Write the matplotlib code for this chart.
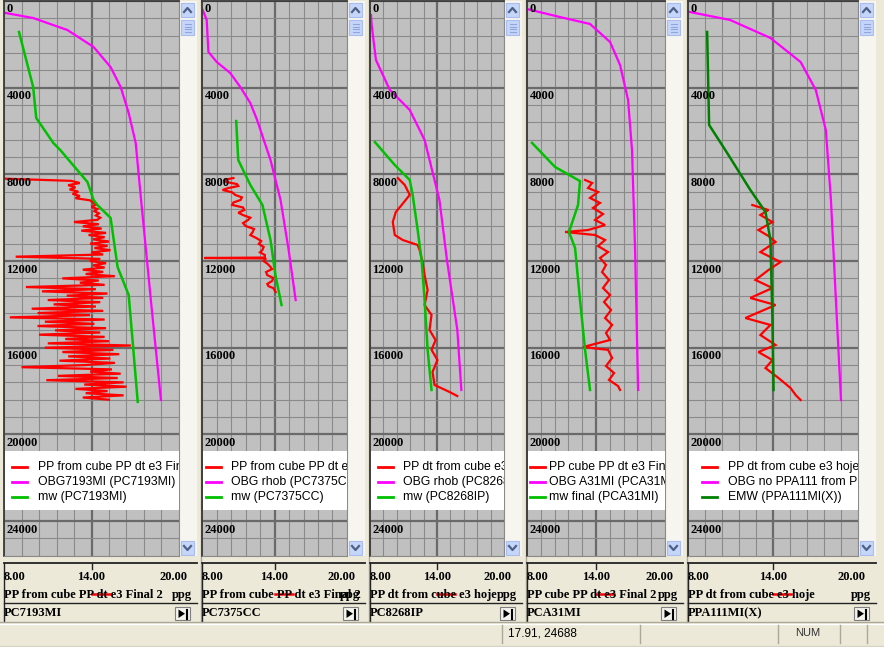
import matplotlib
matplotlib.use('Agg')
import matplotlib.pyplot as plt
import numpy as np
from matplotlib.patches import Rectangle, Polygon
from matplotlib.lines import Line2D

# ---------------- data (ppg vs depth ft) ----------------
XMIN, XMAX = 8.0, 20.0
x_tick_labels = ["8.00", "14.00", "20.00"]
depth_labels = [0, 4000, 8000, 12000, 16000, 20000, 24000]

# Panel 1 : PC7193MI
p1_obg_depth = [540, 785, 1340, 2120, 3050, 3970, 5170, 6550, 9040, 13800, 18410]
p1_obg_ppg = [8.0, 10.0, 12.35, 14.14, 15.31, 16.0, 16.55, 17.03, 17.38, 18.07, 18.76]
p1_mw_depth = [1430, 3970, 5400, 6550, 6880, 8350, 9180, 9420, 10010, 12280, 13570, 15780, 18500]
p1_mw_ppg = [9.03, 10.0, 10.21, 11.38, 11.86, 13.72, 14.14, 14.41, 15.31, 15.79, 16.55, 16.83, 17.17]
p1_pp_depth = list(range(8200, 18401, 100))
p1_pp_ppg = [8.05, 12.6, 13.2, 12.4, 12.9, 12.5, 13.1, 12.7, 13.2, 12.9,
             13.9, 14.1, 14.3, 14.0, 14.4, 14.2, 14.5, 14.3, 14.6, 14.4,
             12.8, 14.5, 13.4, 14.7, 13.3, 15.0, 13.8, 14.9, 14.1, 15.2,
             13.9, 15.1, 14.2, 15.3, 14.0, 14.8, 8.8, 14.6, 13.9, 15.0,
             14.1, 14.9, 13.4, 14.8, 13.6, 15.6, 12.0, 14.5, 13.2, 14.9,
             9.5, 14.3, 10.6, 15.1, 12.3, 14.8, 11.0, 14.6, 11.4, 14.3,
             9.9, 14.8, 10.3, 13.9, 8.4, 14.9, 10.8, 14.2, 10.3, 15.0,
             11.5, 14.6, 10.4, 14.9, 12.2, 15.2, 11.0, 16.7, 10.8, 15.5,
             12.0, 15.9, 12.4, 15.3, 11.8, 15.6, 13.6, 9.2, 15.4, 13.9,
             16.0, 11.7, 15.8, 10.9, 16.2, 13.5, 16.4, 12.9, 15.1, 13.6,
             16.2, 13.4, 15.2]

# Panel 2 : PC7375CC
p2_obg_depth = [415, 877, 2350, 2815, 3320, 3970, 4710, 5490, 7340, 9180, 11490, 13800]
p2_obg_ppg = [8.06, 8.39, 8.53, 9.22, 10.33, 11.17, 12.0, 12.56, 13.67, 14.5, 15.17, 15.75]
p2_mw_depth = [5540, 7340, 8490, 9410, 11030, 12650, 14030]
p2_mw_ppg = [10.83, 11.0, 12.0, 13.0, 13.67, 14.08, 14.58]
p2_pp_depth = [8170, 8260, 8350, 8450, 8540, 8630, 8720, 8830, 8950, 9060, 9180, 9300,
               9410, 9530, 9650, 9770, 9880, 10000, 10110, 10250, 10380, 10520, 10660,
               10800, 10940, 11080, 11210, 11350, 11490, 11600, 11720, 11840, 11860,
               11880, 12000, 12120, 12230, 12370, 12510, 12650, 12780, 12920, 13060,
               13160, 13250, 13430]
p2_pp_ppg = [10.6, 9.8, 10.0, 10.9, 11.0, 10.2, 9.7, 10.5, 10.75, 11.3, 11.2, 10.6,
             10.5, 11.4, 11.5, 11.0, 11.4, 12.0, 11.8, 11.4, 11.6, 12.3, 12.2,
             12.0, 12.5, 12.9, 12.7, 13.1, 13.0, 12.8, 13.2, 13.2, 8.2,
             13.3, 13.1, 13.4, 13.6, 13.8, 13.3, 13.4, 13.9, 13.8, 13.4,
             13.5, 13.9, 14.1]

# Panel 3 : PC8268IP
p3_obg_depth = [646, 1108, 2720, 4107, 5030, 6415, 9184, 11950, 15180, 17950]
p3_obg_ppg = [8.09, 8.15, 8.53, 9.78, 11.56, 12.89, 14.22, 14.89, 15.82, 16.18]
p3_mw_depth = [6510, 7570, 8260, 8950, 10570, 11950, 13800, 16100, 17950]
p3_mw_ppg = [8.44, 10.22, 11.56, 11.82, 12.27, 12.62, 12.89, 13.16, 13.51]
p3_pp_depth = [8170, 8490, 8950, 9410, 9740, 10200, 10800, 11030, 11260, 11490, 12050,
               12650, 13340, 14030, 14490, 15180, 15650, 16100, 16570, 17120, 17720,
               18040, 18230]
p3_pp_ppg = [10.49, 11.11, 11.56, 10.84, 10.31, 10.04, 10.22, 10.93, 12.27, 12.44, 12.71,
             12.89, 13.16, 12.89, 13.51, 13.33, 13.87, 13.51, 14.04, 13.6, 13.78,
             15.11, 15.82]

# Panel 4 : PCA31MI
p4_obg_depth = [370, 740, 1060, 1890, 2950, 4570, 6875, 11490, 17950]
p4_obg_ppg = [8.0, 10.87, 13.48, 15.22, 16.09, 16.79, 17.13, 17.4, 17.66]
p4_mw_depth = [6550, 7660, 8310, 9410, 10660, 11400, 13800, 16100, 17950]
p4_mw_ppg = [8.44, 10.44, 12.61, 12.44, 11.65, 12.18, 12.61, 13.05, 13.48]
p4_pp_depth = [8260, 8400, 8630, 8815, 9090, 9320, 9550, 9830, 10105, 10340, 10570, 10660,
               10800, 11030, 11310, 11585, 11860, 12180, 12510, 12875, 13245, 13570,
               13890, 14260, 14630, 14950, 15320, 15645, 15970, 16100, 16475, 16845,
               17170, 17490, 17770, 17950]
p4_pp_ppg = [13.05, 13.66, 13.31, 14.18, 13.48, 14.35, 13.74, 14.61, 13.92, 14.79, 13.31, 11.31,
             13.92, 14.79, 14.18, 15.05, 14.35, 14.87, 14.53, 15.13, 14.61, 15.22,
             14.70, 15.31, 14.79, 15.40, 14.87, 15.22, 12.87, 15.05, 15.40, 14.87,
             15.57, 15.13, 15.92, 16.09]

# Panel 5 : PPA111MI(X)
p5_obg_depth = [508, 877, 1707, 2815, 4107, 5953, 9184, 13800, 18415]
p5_obg_ppg = [8.14, 10.98, 13.82, 15.95, 17.02, 17.73, 18.09, 18.44, 18.8]
p5_mw_depth = [1430, 5720, 6875, 8720, 9740, 11030, 14720, 17950]
p5_mw_ppg = [9.35, 9.49, 10.63, 12.4, 13.47, 13.82, 13.96, 14.04]
p5_pp_depth = [9415, 9645, 9875, 10200, 10570, 10845, 11120, 11585, 12045, 12415, 12875,
               13245, 13705, 14030, 14630, 14950, 15415, 15875, 16200, 16570, 16940,
               17400, 17860, 18185, 18415]
p5_pp_ppg = [12.54, 13.68, 13.11, 13.96, 12.97, 13.68, 14.18, 13.11, 14.53, 13.68, 12.76,
             13.96, 12.40, 14.18, 12.05, 13.82, 13.11, 14.18, 12.97, 13.96, 13.47,
             14.39, 15.24, 15.60, 15.95]

track_titles = ["PP from cube PP dt e3 Final 2", "PP from cube PP dt e3 Final 2",
                "PP dt from cube e3 hoje", "PP cube PP dt e3 Final 2",
                "PP dt from cube e3 hoje"]
well_names = ["PC7193MI", "PC7375CC", "PC8268IP", "PCA31MI", "PPA111MI(X)"]
legend_labels = [
    ["PP from cube PP dt e3 Final 2 (PC7193MI)", "OBG7193MI (PC7193MI)", "mw (PC7193MI)"],
    ["PP from cube PP dt e3 Final 2 (PC7375CC)", "OBG rhob (PC7375CC)", "mw (PC7375CC)"],
    ["PP dt from cube e3 hoje (PC8268IP)", "OBG rhob (PC8268IP)", "mw (PC8268IP)"],
    ["PP cube PP dt e3 Final 2 (PCA31MI)", "OBG A31MI (PCA31MI)", "mw final (PCA31MI)"],
    ["PP dt from cube e3 hoje (PPA111MI(X))", "OBG no PPA111 from PPA111MI(X)", "EMW (PPA111MI(X))"],
]
status_text = "17.91, 24688"

series = [
    (p1_pp_depth, p1_pp_ppg, p1_obg_depth, p1_obg_ppg, p1_mw_depth, p1_mw_ppg),
    (p2_pp_depth, p2_pp_ppg, p2_obg_depth, p2_obg_ppg, p2_mw_depth, p2_mw_ppg),
    (p3_pp_depth, p3_pp_ppg, p3_obg_depth, p3_obg_ppg, p3_mw_depth, p3_mw_ppg),
    (p4_pp_depth, p4_pp_ppg, p4_obg_depth, p4_obg_ppg, p4_mw_depth, p4_mw_ppg),
    (p5_pp_depth, p5_pp_ppg, p5_obg_depth, p5_obg_ppg, p5_mw_depth, p5_mw_ppg),
]

# ---------------- layout / style ----------------
W, H = 884, 647
BG = '#ECE9D8'
PLOT_BG = '#C0C0C0'
RED, MAG = '#FF0000', '#FF00FF'
GREENS = ['#00C000', '#00C000', '#00C000', '#00C000', '#008000']
PANEL_X = [(4, 179), (202, 347), (370, 504), (527, 665), (688, 858)]
LEG_OFF = [(8, 34), (4, 29), (8, 33), (3, 22), (14, 40)]
PLOT_TOP, PLOT_BOT = 1, 556
FT_PER_PX = 46.15
DEPTH_MAX = (PLOT_BOT - PLOT_TOP) * FT_PER_PX
SERIF = ['Liberation Serif', 'DejaVu Serif']
SANS = ['Liberation Sans', 'DejaVu Sans']

fig = plt.figure(figsize=(W / 100, H / 100), dpi=100)
fig.patch.set_facecolor(BG)


def px_axes(x0, y0, x1, y1):
    return fig.add_axes([x0 / W, 1 - y1 / H, (x1 - x0) / W, (y1 - y0) / H])


chrome = px_axes(0, 0, W, H)
chrome.set_xlim(0, W)
chrome.set_ylim(H, 0)
chrome.axis('off')


def draw_button(x0, y0, x1, y1, up=True):
    chrome.add_patch(Rectangle((x0, y0), x1 - x0, y1 - y0, facecolor='#C6D5FA',
                               edgecolor='#A9BEEE', lw=0.8))
    cx, cy = (x0 + x1) / 2, (y0 + y1) / 2
    d = -1 if up else 1
    chrome.add_line(Line2D([cx - 3.5, cx, cx + 3.5], [cy - 2 * d, cy + 2 * d, cy - 2 * d],
                           color='#4D6185', lw=1.6))


for i, (x0, x1) in enumerate(PANEL_X):
    sx0, sx1 = x1, x1 + 18
    # scrollbar
    chrome.add_patch(Rectangle((sx0, PLOT_TOP), 18, PLOT_BOT - PLOT_TOP,
                               facecolor='#F6F5F0', edgecolor='none'))
    draw_button(sx0 + 2, 3, sx0 + 15, 17, up=True)
    chrome.add_patch(Rectangle((sx0 + 2, 20), 13, 15, facecolor='#C6D5FA',
                               edgecolor='#A9BEEE', lw=0.8))
    for gy in (24, 26.5, 29, 31.5):
        chrome.add_line(Line2D([sx0 + 5.5, sx0 + 11.5], [gy, gy], color='#8FA6DA', lw=0.8))
    draw_button(sx0 + 2, 541, sx0 + 15, 555, up=False)
    # separator between panels
    if i > 0:
        chrome.add_line(Line2D([x0 - 1.5, x0 - 1.5], [0, 622], color='#ACA899', lw=1))

    # header (scale + title + name)
    hx0, hx1 = x0, x1 + 18
    cx = (x0 + x1) / 2
    chrome.add_line(Line2D([hx0, hx1], [563, 563], color='#222222', lw=1.3))
    chrome.add_line(Line2D([hx0 - 0.5, hx0 - 0.5], [563, 621], color='#222222', lw=1.0))
    chrome.add_line(Line2D([cx, cx], [563, 569], color='#222222', lw=1.0))
    chrome.add_line(Line2D([hx0, hx1], [602.5, 602.5], color='#222222', lw=1.0))
    hax = px_axes(hx0, 557, hx1, 622)
    hax.set_xlim(hx0, hx1)
    hax.set_ylim(622, 557)
    hax.axis('off')
    fs = dict(family=SERIF, weight='bold', fontsize=9, color='black', clip_on=True)
    hax.text(hx0, 577, x_tick_labels[0], ha='left', va='center', **fs)
    hax.text(cx, 577, x_tick_labels[1], ha='center', va='center', **fs)
    hax.text(x1 + 8, 577, x_tick_labels[2], ha='right', va='center', **fs)
    hax.text(hx0, 595, track_titles[i], ha='left', va='center', **fs)
    hax.text(x1 + 13, 595, 'ppg', ha='right', va='center', **fs)
    hax.add_line(Line2D([cx, cx + 18], [594, 594], color=RED, lw=1.8))
    hax.text(hx0, 613, well_names[i], ha='left', va='center', **fs)
    # play button
    chrome.add_patch(Rectangle((x1 - 4, 607), 15, 13, facecolor='#F4F3EE',
                               edgecolor='#7F7F7F', lw=0.8))
    chrome.add_patch(Polygon([[x1 - 0.5, 609.5], [x1 - 0.5, 618], [x1 + 6, 613.7]],
                             closed=True, facecolor='black', edgecolor='none'))
    chrome.add_line(Line2D([x1 + 7.5, x1 + 7.5], [609.5, 618.5], color='black', lw=1.5))

    # plot track
    ax = px_axes(x0, PLOT_TOP, x1, PLOT_BOT)
    ax.set_facecolor(PLOT_BG)
    ax.set_xlim(XMIN, XMAX)
    ax.set_ylim(DEPTH_MAX, 0)
    ax.set_xticks([14.0])
    ax.set_xticks(np.linspace(XMIN, XMAX, 11), minor=True)
    ax.set_yticks(np.arange(0, DEPTH_MAX, 4000))
    ax.set_yticks(np.arange(0, DEPTH_MAX, 800), minor=True)
    ax.set_axisbelow(True)
    ax.grid(which='minor', color='#8A8A8A', lw=0.8)
    ax.grid(which='major', color='#6A6A6A', lw=1.6)
    ax.tick_params(which='both', length=0, labelleft=False, labelbottom=False)
    for side in ('left', 'top'):
        ax.spines[side].set_color('#3A3A3A')
        ax.spines[side].set_linewidth(1.3)
    for side in ('right', 'bottom'):
        ax.spines[side].set_color('#8A8A8A')
        ax.spines[side].set_linewidth(0.8)

    ppd, ppv, obd, obv, mwd, mwv = series[i]
    ax.plot(ppv, ppd, color=RED, lw=1.6, solid_joinstyle='miter')
    ax.plot(obv, obd, color=MAG, lw=1.6)
    ax.plot(mwv, mwd, color=GREENS[i], lw=1.8)

    wpx = x1 - x0
    tr = ax.get_yaxis_transform()
    for d in depth_labels:
        ax.text(2.5 / wpx, d + 2.5 * FT_PER_PX, str(d), transform=tr, ha='left', va='top',
                family=SERIF, weight='bold', fontsize=9, color='black')

    # legend box (clipped by the track)
    def fx(px):
        return (px - x0) / wpx

    def fy(py):
        return 1 - (py - PLOT_TOP) / (PLOT_BOT - PLOT_TOP)

    ax.add_patch(Rectangle((fx(x0 + 1), fy(510)), fx(x1) - fx(x0 + 1), fy(451) - fy(510),
                           transform=ax.transAxes, facecolor='white', edgecolor='none',
                           zorder=5))
    lo, to = LEG_OFF[i]
    cols = [RED, MAG, GREENS[i]]
    for k, (lab, col) in enumerate(zip(legend_labels[i], cols)):
        yy = 467 + 15 * k
        ax.add_line(Line2D([fx(x0 + lo), fx(x0 + lo + 15)], [fy(yy), fy(yy)],
                           transform=ax.transAxes, color=col, lw=2, zorder=6))
        ax.text(fx(x0 + to), fy(yy), lab, transform=ax.transAxes, ha='left', va='center',
                family=SANS, fontsize=8.8, color='black', zorder=6, clip_on=True)

# bottom frame lines & status bar
chrome.add_line(Line2D([0, W], [621.5, 621.5], color='#ACA899', lw=1))
chrome.add_line(Line2D([0, W], [623.5, 623.5], color='#FFFFFF', lw=1))
for sx in (502, 640, 778, 840, 867):
    chrome.add_line(Line2D([sx, sx], [625, 643], color='#ACA899', lw=1))
chrome.add_line(Line2D([0, W], [645.5, 645.5], color='#D8D4C4', lw=1))
chrome.text(508, 633.5, status_text, ha='left', va='center', family=SANS, fontsize=8.5,
            color='black')
chrome.text(808, 633.5, 'NUM', ha='center', va='center', family=SANS, fontsize=8,
            color='#333333')

fig.savefig('out.png', dpi=100, facecolor=BG)
